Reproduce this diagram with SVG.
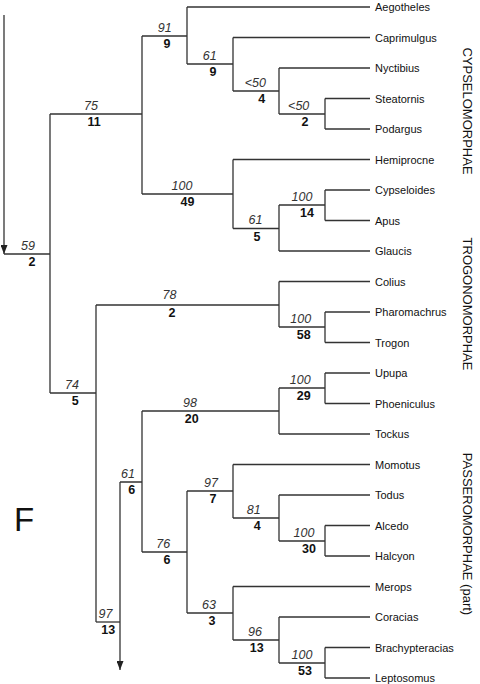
<svg xmlns="http://www.w3.org/2000/svg" width="480" height="684" viewBox="0 0 480 684">
<defs>
<marker id="arr" markerUnits="userSpaceOnUse" markerWidth="9" markerHeight="7" refX="9" refY="3.5" orient="auto">
<path d="M0,0 L9,3.5 L0,7 z" fill="#222"/>
</marker>
</defs>
<style>
.c{fill:none;stroke:#333;stroke-width:1.3}
text{font-family:"Liberation Sans",Arial,sans-serif;fill:#111}
.t{font-size:11px}
.i{font-size:12.5px;font-style:italic;text-anchor:middle;fill:#333}
.b{font-size:12.5px;font-weight:bold;text-anchor:middle}
.g{font-size:13px;text-anchor:middle}
</style>
<rect width="480" height="684" fill="#fff"/>
<g id="connectors" class="c">
<path d="M4,15 V254" marker-end="url(#arr)"/>
<path d="M120,482 V670" marker-end="url(#arr)"/>
<path d="M4,254 H50 M50,114 V393"/>
<path d="M50,114 H142 M142,36 V194"/>
<path d="M142,36 H187 M187,7 V64"/>
<path d="M187,7 H370"/>
<path d="M187,64 H233 M233,37.5 V91"/>
<path d="M233,37.5 H370"/>
<path d="M233,91 H279 M279,68 V114"/>
<path d="M279,68 H370"/>
<path d="M279,114 H325 M325,98.5 V129 M325,98.5 H370 M325,129 H370"/>
<path d="M142,194 H233 M233,159.5 V228.5"/>
<path d="M233,159.5 H370"/>
<path d="M233,228.5 H279 M279,205 V251"/>
<path d="M279,205 H325 M325,190 V220.5 M325,190 H370 M325,220.5 H370"/>
<path d="M279,251 H370"/>
<path d="M50,393 H96 M96,305 V622"/>
<path d="M96,305 H279 M279,281.5 V327"/>
<path d="M279,281.5 H370"/>
<path d="M279,327 H325 M325,312 V342.5 M325,312 H370 M325,342.5 H370"/>
<path d="M96,622 H120"/>
<path d="M120,482 H142 M142,411 V552"/>
<path d="M142,411 H279 M279,388 V434"/>
<path d="M279,388 H325 M325,373 V403.5 M325,373 H370 M325,403.5 H370"/>
<path d="M279,434 H370"/>
<path d="M142,552 H187 M187,491 V613"/>
<path d="M187,491 H233 M233,464.5 V518"/>
<path d="M233,464.5 H370"/>
<path d="M233,518 H279 M279,495 V541"/>
<path d="M279,495 H370"/>
<path d="M279,541 H325 M325,525.5 V556 M325,525.5 H370 M325,556 H370"/>
<path d="M187,613 H233 M233,586.5 V640"/>
<path d="M233,586.5 H370"/>
<path d="M233,640 H279 M279,617 V663"/>
<path d="M279,617 H370"/>
<path d="M279,663 H325 M325,647.5 V678 M325,647.5 H370 M325,678 H370"/>
</g>
<g id="leaves" class="t">
<g id="Aegotheles"><text class="t" x="375" y="11">Aegotheles</text></g>
<g id="Caprimulgus"><text class="t" x="375" y="41.5">Caprimulgus</text></g>
<g id="Nyctibius"><text class="t" x="375" y="72">Nyctibius</text></g>
<g id="Steatornis"><text class="t" x="375" y="102.5">Steatornis</text></g>
<g id="Podargus"><text class="t" x="375" y="133">Podargus</text></g>
<g id="Hemiprocne"><text class="t" x="375" y="163.5">Hemiprocne</text></g>
<g id="Cypseloides"><text class="t" x="375" y="194">Cypseloides</text></g>
<g id="Apus"><text class="t" x="375" y="224.5">Apus</text></g>
<g id="Glaucis"><text class="t" x="375" y="255">Glaucis</text></g>
<g id="Colius"><text class="t" x="375" y="285.5">Colius</text></g>
<g id="Pharomachrus"><text class="t" x="375" y="316">Pharomachrus</text></g>
<g id="Trogon"><text class="t" x="375" y="346.5">Trogon</text></g>
<g id="Upupa"><text class="t" x="375" y="377">Upupa</text></g>
<g id="Phoeniculus"><text class="t" x="375" y="407.5">Phoeniculus</text></g>
<g id="Tockus"><text class="t" x="375" y="438">Tockus</text></g>
<g id="Momotus"><text class="t" x="375" y="468.5">Momotus</text></g>
<g id="Todus"><text class="t" x="375" y="499">Todus</text></g>
<g id="Alcedo"><text class="t" x="375" y="529.5">Alcedo</text></g>
<g id="Halcyon"><text class="t" x="375" y="560">Halcyon</text></g>
<g id="Merops"><text class="t" x="375" y="590.5">Merops</text></g>
<g id="Coracias"><text class="t" x="375" y="621">Coracias</text></g>
<g id="Brachypteracias"><text class="t" x="375" y="651.5">Brachypteracias</text></g>
<g id="Leptosomus"><text class="t" x="375" y="682">Leptosomus</text></g>
</g>
<g id="internal-nodes">
<g id="n59"><text class="i" x="28" y="249.5">59</text><text class="b" x="32" y="266">2</text></g>
<g id="n75"><text class="i" x="91" y="109.5">75</text><text class="b" x="94" y="126">11</text></g>
<g id="n91"><text class="i" x="164.7" y="31.5">91</text><text class="b" x="167" y="48">9</text></g>
<g id="n61a"><text class="i" x="209.7" y="59.5">61</text><text class="b" x="213" y="76">9</text></g>
<g id="n50a"><text class="i" x="255.3" y="86.5">&lt;50</text><text class="b" x="261.7" y="103">4</text></g>
<g id="n50b"><text class="i" x="298.7" y="109.5">&lt;50</text><text class="b" x="305" y="126">2</text></g>
<g id="n100a"><text class="i" x="182" y="189.5">100</text><text class="b" x="187.5" y="206">49</text></g>
<g id="n100b"><text class="i" x="302" y="200.5">100</text><text class="b" x="307" y="217">14</text></g>
<g id="n61b"><text class="i" x="255.5" y="224">61</text><text class="b" x="257" y="240.5">5</text></g>
<g id="n74"><text class="i" x="72" y="388.5">74</text><text class="b" x="75.3" y="405">5</text></g>
<g id="n78"><text class="i" x="169.5" y="299.3">78</text><text class="b" x="172" y="317.3">2</text></g>
<g id="n100c"><text class="i" x="300.8" y="322.5">100</text><text class="b" x="303.7" y="339">58</text></g>
<g id="n98"><text class="i" x="190" y="406.5">98</text><text class="b" x="191.7" y="423">20</text></g>
<g id="n100d"><text class="i" x="300.3" y="383.5">100</text><text class="b" x="303.7" y="400">29</text></g>
<g id="n61c"><text class="i" x="128" y="477.5">61</text><text class="b" x="131.7" y="494">6</text></g>
<g id="n97a"><text class="i" x="105.5" y="617.5">97</text><text class="b" x="108.3" y="634">13</text></g>
<g id="n76"><text class="i" x="163.3" y="547.5">76</text><text class="b" x="167" y="564">6</text></g>
<g id="n97b"><text class="i" x="211" y="486.5">97</text><text class="b" x="213" y="503">7</text></g>
<g id="n81"><text class="i" x="253.8" y="513.5">81</text><text class="b" x="257.3" y="530">4</text></g>
<g id="n100e"><text class="i" x="304" y="536.5">100</text><text class="b" x="309" y="553">30</text></g>
<g id="n63"><text class="i" x="209" y="608.5">63</text><text class="b" x="212" y="625">3</text></g>
<g id="n96"><text class="i" x="255" y="635.5">96</text><text class="b" x="256.7" y="652">13</text></g>
<g id="n100f"><text class="i" x="302" y="658.5">100</text><text class="b" x="305" y="675">53</text></g>
</g>
<g id="groups">
<text class="g" transform="translate(463,111) rotate(90)">CYPSELOMORPHAE</text>
<text class="g" transform="translate(463,304) rotate(90)">TROGONOMORPHAE</text>
<text class="g" transform="translate(463,534) rotate(90)">PASSEROMORPHAE (part)</text>
</g>
<text x="14" y="531" style="font-size:33px">F</text>
</svg>
